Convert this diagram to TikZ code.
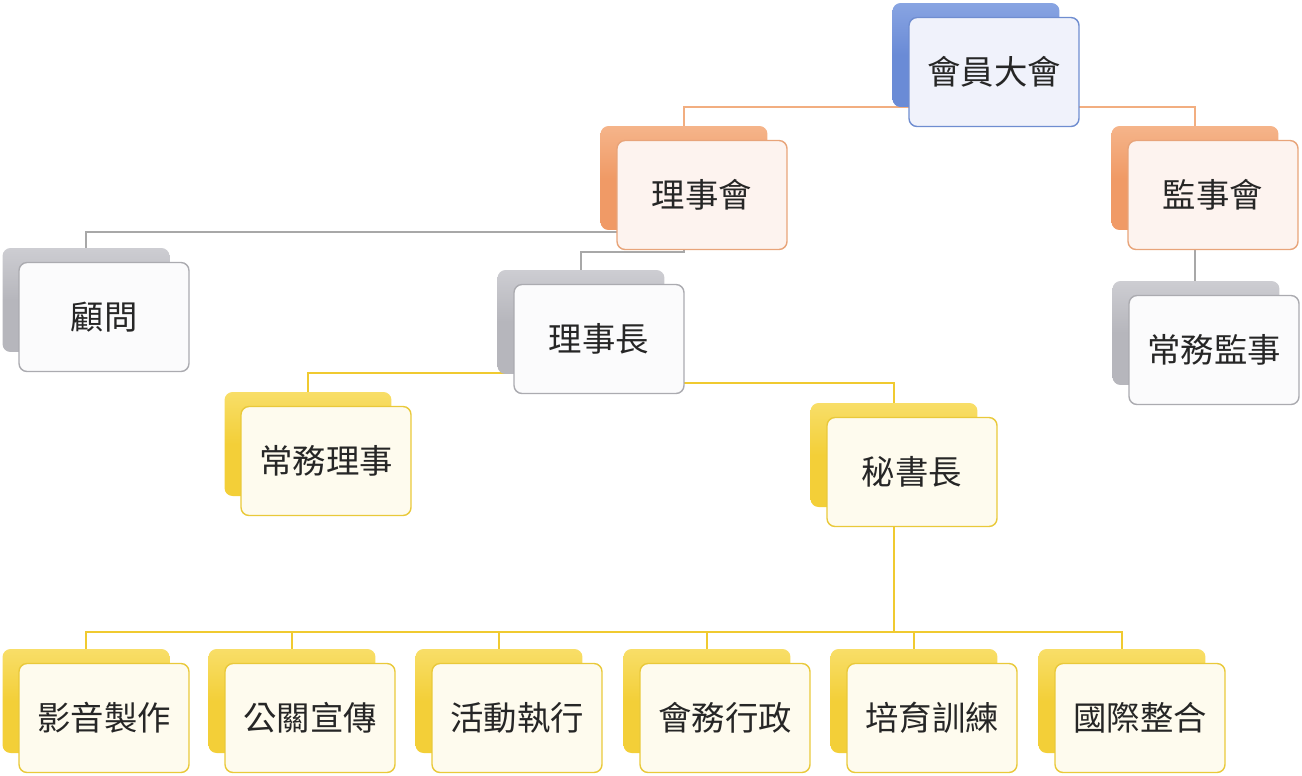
\documentclass[tikz,border=0pt]{standalone}
\usepackage{fontspec}
\newfontfamily\cjk{Noto Sans CJK TC}
\usepackage{tikz}
\usetikzlibrary{backgrounds}
\usepackage{xcolor}
\definecolor{blueback}{HTML}{6A8BD6}
\definecolor{bluetop}{HTML}{88A4E2}
\definecolor{blueedge}{HTML}{6F8DD0}
\definecolor{bluefill}{HTML}{F0F2FB}
\definecolor{orangeback}{HTML}{F09A66}
\definecolor{orangetop}{HTML}{F5B48A}
\definecolor{orangeedge}{HTML}{E8A47A}
\definecolor{orangefill}{HTML}{FDF3EF}
\definecolor{grayback}{HTML}{B6B6BC}
\definecolor{graytop}{HTML}{CDCDD2}
\definecolor{grayedge}{HTML}{ABABB0}
\definecolor{grayfill}{HTML}{FBFBFC}
\definecolor{yellowback}{HTML}{F3CF38}
\definecolor{yellowtop}{HTML}{F8DE68}
\definecolor{yellowedge}{HTML}{E9C93A}
\definecolor{yellowfill}{HTML}{FEFBEE}
\definecolor{orangeline}{HTML}{F2AE80}
\definecolor{grayline}{HTML}{A8A8A8}
\definecolor{yellowline}{HTML}{F0CA30}
\tikzset{
  backbox/.style={rounded corners=1.6mm, minimum width=3.34cm, minimum height=2.08cm, inner sep=0pt},
  frontbox/.style={rounded corners=1.6mm, minimum width=3.4cm, minimum height=2.18cm, inner sep=0pt, line width=0.8pt,
    font=\cjk\fontsize{19}{23}\selectfont, text=black!85},
  blueback/.style={backbox, top color=bluetop, bottom color=blueback, middle color=blueback},
  orangeback/.style={backbox, top color=orangetop, bottom color=orangeback, middle color=orangeback},
  grayback/.style={backbox, top color=graytop, bottom color=grayback, middle color=grayback},
  yellowback/.style={backbox, top color=yellowtop, bottom color=yellowback, middle color=yellowback},
  bluebox/.style={frontbox, draw=blueedge, fill=bluefill},
  orangebox/.style={frontbox, draw=orangeedge, fill=orangefill},
  graybox/.style={frontbox, draw=grayedge, fill=grayfill},
  yellowbox/.style={frontbox, draw=yellowedge, fill=yellowfill},
  link/.style={line width=1pt}
}
\begin{document}
\begin{tikzpicture}[x=0.02cm, y=-0.02cm]
  \useasboundingbox (0,0) rectangle (1302,775);
  % back plates
  \node[blueback] (huiyuan-bk) at (976,55) {};
  \node[orangeback] (lishihui-bk) at (684,178) {};
  \node[orangeback] (jianshihui-bk) at (1195,178) {};
  \node[grayback] (changwujianshi-bk) at (1196,333) {};
  \node[grayback] (guwen-bk) at (86,300) {};
  \node[grayback] (lishizhang-bk) at (581,322) {};
  \node[yellowback] (changwulishi-bk) at (308,444) {};
  \node[yellowback] (mishuzhang-bk) at (894,455) {};
  \node[yellowback] (yingyin-bk) at (86,701) {};
  \node[yellowback] (gongguan-bk) at (292,701) {};
  \node[yellowback] (huodong-bk) at (499,701) {};
  \node[yellowback] (huiwu-bk) at (707,701) {};
  \node[yellowback] (peiyu-bk) at (914,701) {};
  \node[yellowback] (guoji-bk) at (1122,701) {};
  % front boxes
  \node[bluebox] (huiyuan) at (994,72) {會員大會};
  \node[orangebox] (lishihui) at (702,195) {理事會};
  \node[orangebox] (jianshihui) at (1213,195) {監事會};
  \node[graybox] (changwujianshi) at (1214,350) {常務監事};
  \node[graybox] (guwen) at (104,317) {顧問};
  \node[graybox] (lishizhang) at (599,339) {理事長};
  \node[yellowbox] (changwulishi) at (326,461) {常務理事};
  \node[yellowbox] (mishuzhang) at (912,472) {秘書長};
  \node[yellowbox] (yingyin) at (104,718) {影音製作};
  \node[yellowbox] (gongguan) at (310,718) {公關宣傳};
  \node[yellowbox] (huodong) at (517,718) {活動執行};
  \node[yellowbox] (huiwu) at (725,718) {會務行政};
  \node[yellowbox] (peiyu) at (932,718) {培育訓練};
  \node[yellowbox] (guoji) at (1140,718) {國際整合};
  % connectors
  \begin{scope}[on background layer]
    \draw[link, orangeline] (huiyuan-bk.center) |- ([yshift=0.38cm]lishihui-bk.north) -- (lishihui-bk.north);
    \draw[link, orangeline] (huiyuan-bk.center) |- ([yshift=0.38cm]jianshihui-bk.north) -- (jianshihui-bk.north);
    \draw[link, grayline] (lishihui-bk.center) |- ([yshift=0.32cm]guwen-bk.north) -- (guwen-bk.north);
    \draw[link, grayline] (lishihui-bk.center) |- ([yshift=0.36cm]lishizhang-bk.north) -- (lishizhang-bk.north);
    \draw[link, grayline] (jianshihui-bk.center) -- (jianshihui-bk.center |- changwujianshi-bk.north);
    \draw[link, yellowline] (lishizhang-bk.center) |- ([yshift=0.38cm]changwulishi-bk.north) -- (changwulishi-bk.north);
    \draw[link, yellowline] (lishizhang-bk.center) |- ([yshift=0.4cm]mishuzhang-bk.north) -- (mishuzhang-bk.north);
    \draw[link, yellowline] (mishuzhang-bk.center) |- ([yshift=0.34cm]yingyin-bk.north) -- (yingyin-bk.north);
    \draw[link, yellowline] (mishuzhang-bk.center) |- ([yshift=0.34cm]gongguan-bk.north) -- (gongguan-bk.north);
    \draw[link, yellowline] (mishuzhang-bk.center) |- ([yshift=0.34cm]huodong-bk.north) -- (huodong-bk.north);
    \draw[link, yellowline] (mishuzhang-bk.center) |- ([yshift=0.34cm]huiwu-bk.north) -- (huiwu-bk.north);
    \draw[link, yellowline] (mishuzhang-bk.center) |- ([yshift=0.34cm]peiyu-bk.north) -- (peiyu-bk.north);
    \draw[link, yellowline] (mishuzhang-bk.center) |- ([yshift=0.34cm]guoji-bk.north) -- (guoji-bk.north);
  \end{scope}
\end{tikzpicture}
\end{document}
